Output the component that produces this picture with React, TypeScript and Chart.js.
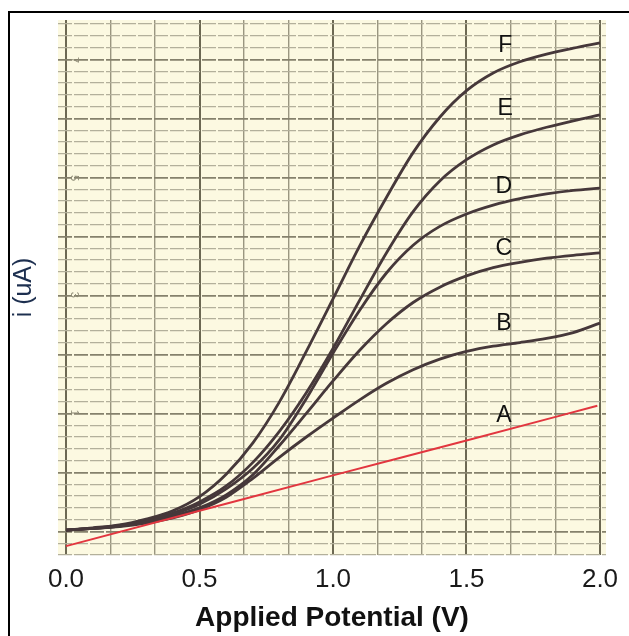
import React, { useEffect, useRef } from "react";
import { Chart, registerables } from "chart.js";

Chart.register(...registerables);

// ---- data ----
const xTickLabels = ["0.0", "0.5", "1.0", "1.5", "2.0"];
const xTitle = "Applied Potential (V)";
const yTitle = "i (uA)";

const curveNames = ["A", "B", "C", "D", "E", "F"];
const labelV = [1.64, 1.64, 1.64, 1.64, 1.645, 1.645];
const labelI = [2.37, 3.92, 5.19, 6.25, 7.56, 8.64];

const paperDigits = ["7", "5", "3", "1"];
const paperDigitI = [8.39, 6.39, 4.41, 2.41];

const aV = [0, 0.5, 1.0, 1.5, 1.99];
const aI = [0.15, 0.75, 1.35, 1.94, 2.53];

const potential = [0, 0.1, 0.2, 0.3, 0.4, 0.5, 0.6, 0.7, 0.8, 0.9, 1.0, 1.1, 1.2, 1.3, 1.4, 1.5, 1.6, 1.7, 1.8, 1.9, 2.0];
const bI = [0.42, 0.45, 0.48, 0.54, 0.63, 0.77, 0.98, 1.3, 1.66, 2.0, 2.32, 2.63, 2.91, 3.14, 3.32, 3.45, 3.54, 3.6, 3.67, 3.77, 3.93];
const cI = [0.42, 0.45, 0.49, 0.56, 0.66, 0.8, 1.02, 1.36, 1.86, 2.4, 2.95, 3.47, 3.92, 4.28, 4.54, 4.73, 4.87, 4.96, 5.03, 5.08, 5.12];
const dI = [0.42, 0.45, 0.49, 0.57, 0.69, 0.86, 1.12, 1.47, 1.96, 2.65, 3.42, 4.15, 4.78, 5.25, 5.57, 5.78, 5.93, 6.04, 6.12, 6.18, 6.22];
const eI = [0.42, 0.45, 0.5, 0.58, 0.71, 0.9, 1.17, 1.57, 2.1, 2.75, 3.5, 4.32, 5.12, 5.82, 6.34, 6.7, 6.95, 7.12, 7.25, 7.36, 7.46];
const fI = [0.42, 0.46, 0.51, 0.61, 0.75, 0.99, 1.37, 1.9, 2.6, 3.45, 4.34, 5.24, 6.06, 6.82, 7.42, 7.87, 8.17, 8.36, 8.49, 8.59, 8.68];

const seriesV = [aV, potential, potential, potential, potential, potential];
const seriesI = [aI, bI, cI, dI, eI, fI];
const seriesColor = ["#e2363f", "#46383a", "#46383a", "#46383a", "#46383a", "#46383a"];

const FONT = "'Liberation Sans', Arial, sans-serif";

const paperPlugin = {
  id: "paper",
  beforeDraw(chart: any) {
    const { ctx, chartArea } = chart;
    ctx.save();
    ctx.fillStyle = "#ffffff";
    ctx.fillRect(0, 0, chart.width, chart.height);
    ctx.fillStyle = "#fcf9e1";
    ctx.fillRect(chartArea.left, chartArea.top, chartArea.right - chartArea.left, chartArea.bottom - chartArea.top);
    // outer frame
    ctx.fillStyle = "#000000";
    ctx.fillRect(8, 11, chart.width - 8, 2);
    ctx.fillRect(8, 11, 2, chart.height - 11);
    ctx.restore();
  },
  afterDatasetsDraw(chart: any) {
    const { ctx, scales } = chart;
    const xs = scales.x;
    const ys = scales.y;
    ctx.save();
    // faint printed digits of the chart paper
    ctx.fillStyle = "#8d8a74";
    ctx.font = `11px ${FONT}`;
    ctx.textAlign = "center";
    ctx.textBaseline = "middle";
    paperDigits.forEach((d, i) => {
      ctx.save();
      ctx.translate(xs.getPixelForValue(0.03), ys.getPixelForValue(paperDigitI[i]));
      ctx.rotate(Math.PI / 2);
      ctx.fillText(d, 0, 0);
      ctx.restore();
    });
    // curve letters
    ctx.fillStyle = "#111111";
    ctx.font = `23px ${FONT}`;
    curveNames.forEach((n, i) => {
      ctx.fillText(n, xs.getPixelForValue(labelV[i]), ys.getPixelForValue(labelI[i]));
    });
    ctx.restore();
  },
};

export default function App() {
  const ref = useRef<HTMLCanvasElement | null>(null);

  useEffect(() => {
    if (!ref.current) return;
    const datasets = seriesV.map((vs, s) => ({
      label: curveNames[s],
      data: vs.map((v, i) => ({ x: v, y: seriesI[s][i] })),
      borderColor: seriesColor[s],
      backgroundColor: seriesColor[s],
      borderWidth: s === 0 ? 2 : 2.8,
      pointRadius: 0,
      cubicInterpolationMode: "monotone" as const,
      fill: false,
    }));

    const chart = new Chart(ref.current, {
      type: "line",
      data: { datasets },
      plugins: [paperPlugin],
      options: {
        animation: false,
        responsive: false,
        events: [],
        layout: { padding: { left: 0, top: 20, right: 23, bottom: 0 } },
        plugins: {
          legend: { display: false },
          tooltip: { enabled: false },
        },
        scales: {
          x: {
            type: "linear",
            min: -0.03,
            max: 2.0225,
            afterBuildTicks: (scale: any) => {
              scale.ticks = Array.from({ length: 13 }, (_, k) => ({ value: k / 6 }));
            },
            afterFit: (scale: any) => {
              scale.height = 81;
            },
            ticks: {
              autoSkip: false,
              maxRotation: 0,
              padding: 9,
              color: "#1a1a1a",
              font: { family: FONT, size: 26 },
              callback: (_v: any, index: number) => (index % 3 === 0 ? xTickLabels[index / 3] : ""),
            },
            grid: {
              drawTicks: false,
              color: (c: any) => (c.index % 3 === 0 ? "#6c6853" : "#9a9680"),
              lineWidth: (c: any) => (c.index % 3 === 0 ? 2 : 1.4),
            },
            border: { display: false },
            title: {
              display: true,
              text: xTitle,
              color: "#111111",
              font: { family: FONT, size: 28, weight: "bold" },
              padding: { top: 0, bottom: 1 },
            },
          },
          y: {
            type: "linear",
            min: 0,
            max: 9.068,
            afterBuildTicks: (scale: any) => {
              scale.ticks = Array.from({ length: 46 }, (_, i) => ({ value: i * 0.2 }));
            },
            afterFit: (scale: any) => {
              scale.width = 58;
            },
            ticks: { display: false },
            grid: {
              drawTicks: false,
              color: (c: any) => (c.index % 5 === 2 ? "#85816c" : "#b3b09b"),
              lineWidth: (c: any) => (c.index % 5 === 2 ? 1.8 : 1.2),
            },
            border: { display: false, dash: [14, 2] },
            title: {
              display: true,
              text: yTitle,
              color: "#1d2f4f",
              font: { family: FONT, size: 25 },
              padding: { top: 9, bottom: 0 },
            },
          },
        },
      },
    });
    return () => chart.destroy();
  }, []);

  return (
    <div style={{ position: "absolute", left: 0, top: 0, width: 629, height: 636 }}>
      <canvas ref={ref} width={629} height={636} style={{ display: "block" }} />
    </div>
  );
}
